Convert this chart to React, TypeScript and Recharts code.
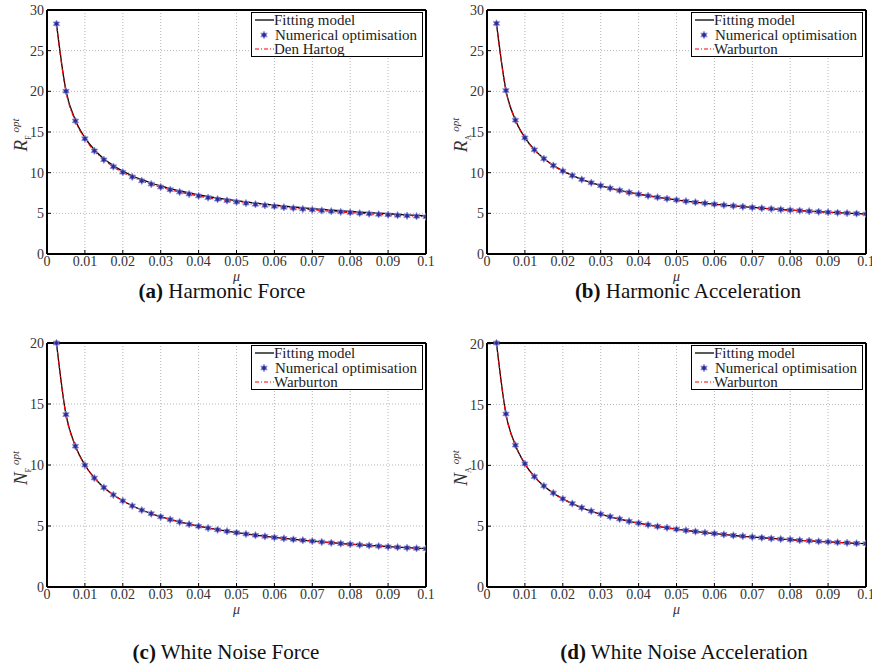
import React from 'react';
import { LineChart, Line, XAxis, YAxis, CartesianGrid, Legend } from 'recharts';

// mass ratio values (x axis)
const mu = [
  0.0025, 0.005, 0.0075, 0.01, 0.0125, 0.015, 0.0175, 0.02, 0.0225, 0.025,
  0.0275, 0.03, 0.0325, 0.035, 0.0375, 0.04, 0.0425, 0.045, 0.0475, 0.05,
  0.0525, 0.055, 0.0575, 0.06, 0.0625, 0.065, 0.0675, 0.07, 0.0725, 0.075,
  0.0775, 0.08, 0.0825, 0.085, 0.0875, 0.09, 0.0925, 0.095, 0.0975, 0.1,
];

const xTicks = [0, 0.01, 0.02, 0.03, 0.04, 0.05, 0.06, 0.07, 0.08, 0.09, 0.1];
const yTicksR = [0, 5, 10, 15, 20, 25, 30];
const yTicksN = [0, 5, 10, 15, 20];

// (a) Harmonic Force
const hfNumerical = [
  28.3, 20.02, 16.36, 14.18, 12.69, 11.59, 10.74, 10.05, 9.48, 9.0,
  8.59, 8.23, 7.91, 7.62, 7.37, 7.14, 6.93, 6.74, 6.57, 6.4,
  6.25, 6.11, 5.98, 5.86, 5.74, 5.64, 5.53, 5.44, 5.35, 5.26,
  5.18, 5.1, 5.02, 4.95, 4.88, 4.82, 4.76, 4.7, 4.64, 4.58,
];
const hfFit = [
  28.3, 20.1, 16.45, 14.3, 12.82, 11.72, 10.88, 10.19, 9.62, 9.14,
  8.73, 8.37, 8.05, 7.76, 7.51, 7.28, 7.07, 6.88, 6.71, 6.55,
  6.4, 6.26, 6.13, 6.01, 5.89, 5.78, 5.68, 5.58, 5.49, 5.4,
  5.32, 5.24, 5.16, 5.09, 5.02, 4.95, 4.88, 4.81, 4.75, 4.68,
];
const hfDenHartog = [
  28.28, 20.0, 16.34, 14.16, 12.67, 11.57, 10.72, 10.03, 9.46, 8.98,
  8.57, 8.21, 7.89, 7.61, 7.36, 7.13, 6.92, 6.73, 6.56, 6.39,
  6.24, 6.1, 5.97, 5.85, 5.73, 5.63, 5.52, 5.43, 5.34, 5.25,
  5.17, 5.09, 5.01, 4.94, 4.87, 4.81, 4.75, 4.69, 4.63, 4.57,
];

// (b) Harmonic Acceleration
const haNumerical = [
  28.35, 20.1, 16.45, 14.28, 12.81, 11.72, 10.88, 10.2, 9.64, 9.16,
  8.76, 8.4, 8.09, 7.82, 7.57, 7.35, 7.15, 6.97, 6.8, 6.64,
  6.49, 6.36, 6.24, 6.12, 6.01, 5.91, 5.81, 5.72, 5.63, 5.55,
  5.47, 5.4, 5.33, 5.26, 5.2, 5.13, 5.08, 5.03, 4.97, 4.92,
];
const haFit = [
  28.35, 20.12, 16.47, 14.3, 12.83, 11.74, 10.9, 10.22, 9.66, 9.18,
  8.78, 8.42, 8.11, 7.83, 7.58, 7.36, 7.16, 6.98, 6.81, 6.65,
  6.5, 6.37, 6.25, 6.13, 6.02, 5.92, 5.82, 5.73, 5.64, 5.56,
  5.48, 5.41, 5.34, 5.27, 5.2, 5.14, 5.08, 5.03, 4.97, 4.92,
];
const haWarburton = [
  28.35, 20.1, 16.44, 14.27, 12.8, 11.71, 10.87, 10.19, 9.63, 9.15,
  8.75, 8.39, 8.08, 7.81, 7.56, 7.34, 7.14, 6.96, 6.79, 6.63,
  6.49, 6.36, 6.23, 6.11, 6.0, 5.9, 5.8, 5.71, 5.62, 5.54,
  5.46, 5.39, 5.32, 5.25, 5.19, 5.13, 5.07, 5.02, 4.96, 4.91,
];

// (c) White Noise Force
const wfNumerical = [
  20.0, 14.13, 11.54, 9.99, 8.93, 8.15, 7.55, 7.06, 6.65, 6.3,
  6.01, 5.75, 5.53, 5.33, 5.14, 4.98, 4.83, 4.69, 4.57, 4.45,
  4.34, 4.24, 4.15, 4.06, 3.98, 3.9, 3.83, 3.76, 3.69, 3.62,
  3.56, 3.51, 3.45, 3.4, 3.35, 3.3, 3.26, 3.21, 3.17, 3.13,
];
const wfFit = [
  20.0, 14.14, 11.55, 10.0, 8.94, 8.16, 7.56, 7.07, 6.66, 6.31,
  6.02, 5.76, 5.54, 5.34, 5.15, 4.99, 4.84, 4.7, 4.58, 4.46,
  4.35, 4.25, 4.16, 4.07, 3.99, 3.91, 3.84, 3.77, 3.7, 3.63,
  3.57, 3.52, 3.46, 3.41, 3.36, 3.31, 3.27, 3.22, 3.18, 3.14,
];
const wfWarburton = [
  20.0, 14.13, 11.54, 9.99, 8.93, 8.15, 7.55, 7.06, 6.65, 6.3,
  6.01, 5.75, 5.53, 5.33, 5.14, 4.98, 4.83, 4.69, 4.57, 4.45,
  4.34, 4.24, 4.15, 4.06, 3.98, 3.9, 3.83, 3.76, 3.69, 3.62,
  3.56, 3.51, 3.45, 3.4, 3.35, 3.3, 3.26, 3.21, 3.17, 3.13,
];

// (d) White Noise Acceleration
const waNumerical = [
  20.06, 14.23, 11.66, 10.13, 9.08, 8.31, 7.73, 7.25, 6.86, 6.52,
  6.24, 5.99, 5.78, 5.59, 5.4, 5.25, 5.11, 4.98, 4.87, 4.75,
  4.65, 4.56, 4.47, 4.39, 4.32, 4.24, 4.18, 4.11, 4.05, 3.99,
  3.94, 3.9, 3.84, 3.8, 3.75, 3.71, 3.67, 3.63, 3.59, 3.56,
];
const waFit = [
  20.06, 14.22, 11.65, 10.12, 9.07, 8.3, 7.72, 7.24, 6.85, 6.51,
  6.23, 5.98, 5.77, 5.58, 5.4, 5.25, 5.11, 4.98, 4.86, 4.75,
  4.65, 4.56, 4.47, 4.39, 4.31, 4.24, 4.17, 4.11, 4.05, 3.99,
  3.94, 3.89, 3.84, 3.79, 3.75, 3.71, 3.67, 3.63, 3.59, 3.56,
];
const waWarburton = [
  20.06, 14.23, 11.66, 10.13, 9.08, 8.31, 7.73, 7.25, 6.86, 6.52,
  6.24, 5.99, 5.78, 5.59, 5.4, 5.25, 5.11, 4.98, 4.87, 4.75,
  4.65, 4.56, 4.47, 4.39, 4.32, 4.24, 4.18, 4.11, 4.05, 3.99,
  3.94, 3.9, 3.84, 3.8, 3.75, 3.71, 3.67, 3.63, 3.59, 3.56,
];

const serif = '"Liberation Serif", "Times New Roman", serif';

const Star = (p: any) => {
  const { cx, cy } = p;
  if (cx == null || cy == null) return null;
  const pts: string[] = [];
  for (let i = 0; i < 12; i++) {
    const r = i % 2 === 0 ? 3.7 : 2.0;
    const a = (Math.PI / 6) * i - Math.PI / 2;
    pts.push(`${cx + r * Math.cos(a)},${cy + r * Math.sin(a)}`);
  }
  return <polygon key={p.index} points={pts.join(' ')} fill="#2c2c96" stroke="#8e8ed8" strokeWidth={0.8} />;
};

const YLabel = ({ main, sub }: { main: string; sub: string }) => (
  <text x={0} y={0} transform="translate(27,135) rotate(-90)" textAnchor="middle" fill="#333" fontFamily={serif}>
    <tspan fontSize={19} fontStyle="italic">{main}</tspan>
    <tspan fontSize={8} dy={4}>{sub}</tspan>
    <tspan fontSize={11} fontStyle="italic" dy={-12} dx={3}>opt</tspan>
  </text>
);

const LegendBox = ({ refName }: { refName: string }) => (
  <div
    style={{
      border: '1.5px solid #000',
      background: '#fff',
      boxSizing: 'border-box',
      width: 172,
      height: 45,
      padding: '0 0 0 2px',
      fontFamily: serif,
      fontSize: 15,
      lineHeight: '14px',
      color: '#222',
      textAlign: 'left',
      whiteSpace: 'nowrap',
      overflow: 'hidden',
    }}
  >
    <div style={{ display: 'flex', alignItems: 'center', height: 14.5 }}>
      <svg width={20} height={10}>
        <line x1={1} y1={5} x2={20} y2={5} stroke="#000" strokeWidth={1.3} />
      </svg>
      <span>Fitting model</span>
    </div>
    <div style={{ display: 'flex', alignItems: 'center', height: 14.5 }}>
      <svg width={20} height={10}>
        <Star cx={10} cy={5} index={0} />
      </svg>
      <span style={{ marginLeft: 1 }}>Numerical optimisation</span>
    </div>
    <div style={{ display: 'flex', alignItems: 'center', height: 14.5 }}>
      <svg width={20} height={10}>
        <line x1={1} y1={5} x2={20} y2={5} stroke="#ff0000" strokeWidth={1.2} strokeDasharray="4 2 1 2" />
      </svg>
      <span>{refName}</span>
    </div>
  </div>
);

interface PanelProps {
  numerical: number[];
  fit: number[];
  reference: number[];
  refName: string;
  yMax: number;
  yTicks: number[];
  main: string;
  sub: string;
}

const tickStyle = { fill: '#333', fontSize: 14, fontFamily: serif };

const Panel = ({ numerical, fit, reference, refName, yMax, yTicks, main, sub }: PanelProps) => {
  const data = mu.map((m, i) => ({ mu: m, num: numerical[i], fit: fit[i], ref: reference[i] }));
  return (
    <LineChart width={440} height={290} data={data} margin={{ top: 9, right: 13, bottom: 6, left: 17 }}>
      <CartesianGrid stroke="#b5b5b5" strokeDasharray="1 2" />
      <XAxis
        dataKey="mu"
        type="number"
        domain={[0, 0.1]}
        ticks={xTicks}
        tickFormatter={(v: number) => String(Number(v.toFixed(2)))}
        allowDataOverflow
        height={30}
        tick={tickStyle}
        tickSize={-4}
        tickMargin={6}
        axisLine={{ stroke: '#000', strokeWidth: 2 }}
        tickLine={{ stroke: '#000' }}
        interval={0}
        label={{ value: 'μ', position: 'insideBottom', offset: 3, fontSize: 14, fontStyle: 'italic', fill: '#333', fontFamily: serif }}
      />
      <XAxis
        xAxisId="top"
        dataKey="mu"
        type="number"
        orientation="top"
        domain={[0, 0.1]}
        ticks={xTicks}
        height={1}
        tick={false}
        tickSize={-4}
        axisLine={{ stroke: '#000', strokeWidth: 2 }}
        tickLine={{ stroke: '#000' }}
        interval={0}
      />
      <YAxis
        type="number"
        domain={[0, yMax]}
        ticks={yTicks}
        width={30}
        tick={tickStyle}
        tickSize={-4}
        tickMargin={7}
        axisLine={{ stroke: '#000', strokeWidth: 2 }}
        tickLine={{ stroke: '#000' }}
        interval={0}
        label={<YLabel main={main} sub={sub} />}
      />
      <YAxis
        yAxisId="right"
        orientation="right"
        type="number"
        domain={[0, yMax]}
        ticks={yTicks}
        width={1}
        tick={false}
        tickSize={-4}
        axisLine={{ stroke: '#000', strokeWidth: 2 }}
        tickLine={{ stroke: '#000' }}
        interval={0}
      />
      <Legend
        layout="horizontal"
        verticalAlign="middle"
        align="center"
        wrapperStyle={{ left: 251, top: 12, width: 172 }}
        content={() => <LegendBox refName={refName} />}
      />
      <Line type="monotone" dataKey="fit" stroke="#000" strokeWidth={1.3} dot={false} isAnimationActive={false} />
      <Line
        dataKey="num"
        stroke="none"
        dot={(p: any) => <Star key={p.index} {...p} />}
        activeDot={false}
        isAnimationActive={false}
      />
      <Line
        type="monotone"
        dataKey="ref"
        stroke="#ff0000"
        strokeWidth={1.2}
        strokeDasharray="4 2 1 2"
        dot={false}
        isAnimationActive={false}
      />
    </LineChart>
  );
};

const Caption = ({ tag, text, center, top }: { tag: string; text: string; center: number; top: number }) => (
  <div
    style={{
      position: 'absolute',
      left: center - 200,
      top,
      width: 400,
      textAlign: 'center',
      fontFamily: serif,
      fontSize: 21,
      lineHeight: '16px',
      color: '#111',
    }}
  >
    <b>{tag}</b> {text}
  </div>
);

export default function App() {
  return (
    <div style={{ position: 'absolute', left: 0, top: 0, width: 872, height: 668, overflow: 'hidden', background: '#fff' }}>
      <div style={{ position: 'absolute', left: 0, top: 0 }}>
        <Panel numerical={hfNumerical} fit={hfFit} reference={hfDenHartog} refName="Den Hartog" yMax={30} yTicks={yTicksR} main="R" sub="F" />
      </div>
      <div style={{ position: 'absolute', left: 440, top: 0 }}>
        <Panel numerical={haNumerical} fit={haFit} reference={haWarburton} refName="Warburton" yMax={30} yTicks={yTicksR} main="R" sub="A" />
      </div>
      <div style={{ position: 'absolute', left: 0, top: 333 }}>
        <Panel numerical={wfNumerical} fit={wfFit} reference={wfWarburton} refName="Warburton" yMax={20} yTicks={yTicksN} main="N" sub="F" />
      </div>
      <div style={{ position: 'absolute', left: 440, top: 333 }}>
        <Panel numerical={waNumerical} fit={waFit} reference={waWarburton} refName="Warburton" yMax={20} yTicks={yTicksN} main="N" sub="A" />
      </div>
      <Caption tag="(a)" text="Harmonic Force" center={222} top={283} />
      <Caption tag="(b)" text="Harmonic Acceleration" center={688} top={283} />
      <Caption tag="(c)" text="White Noise Force" center={226} top={644} />
      <Caption tag="(d)" text="White Noise Acceleration" center={684} top={644} />
    </div>
  );
}
